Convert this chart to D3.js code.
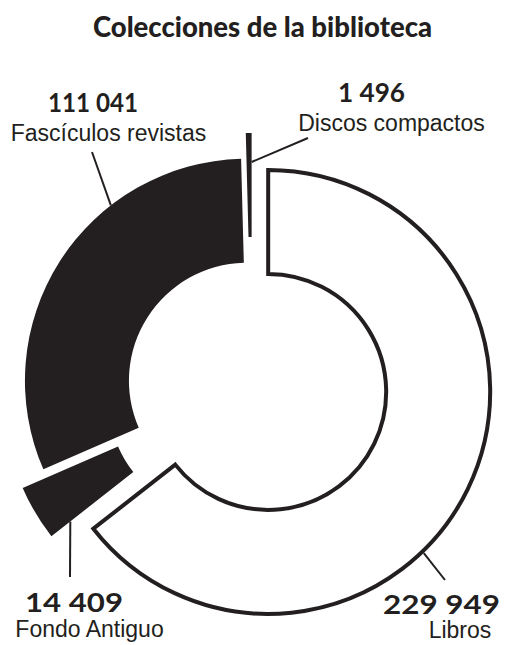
<!DOCTYPE html>
<html><head><meta charset="utf-8">
<script src="https://cdn.jsdelivr.net/npm/d3@7"></script>
<style>html,body{margin:0;padding:0;background:#fff} svg{display:block}</style>
</head><body>
<svg id="chart" width="512" height="645"></svg>
<script>
// ---- data ----
const title = "Colecciones de la biblioteca";
const categories = ["Libros", "Fondo Antiguo", "Fascículos revistas", "Discos compactos"];
const values = [229949, 14409, 111041, 1496];
const valueLabels = ["229 949", "14 409", "111 041", "1 496"];

// ---- layout / style ----
const W = 512, H = 645;
const cx = 252, cy = 384, rOut = 222, rIn = 118;
const explode = [18, 30, 6, 29];
const fills = ["#ffffff", "#231f20", "#231f20", "#231f20"];
const ink = "#231f20";
const labelLayout = [
  {num: [441.5, 614], numW: 117, name: [460, 638], lead: {deg: 136, r: rOut + 2}, end: [445, 580]},
  {num: [74, 612], numW: 98, name: [89.5, 637], lead: {deg: "start", r: 198}, end: [70, 577]},
  {num: [93, 112], numW: 90, name: [108.5, 141], lead: {deg: 322.2, r: rOut}, end: [92, 152]},
  {num: [371.5, 102], numW: 67, name: [391.5, 131], lead: {deg: "end", r: 193}, end: [308, 138]}
];

const svg = d3.select("#chart");
svg.append("rect").attr("width", W).attr("height", H).attr("fill", "#fff");

svg.append("text")
  .attr("x", 262.5).attr("y", 37)
  .attr("text-anchor", "middle")
  .attr("font-family", "Lato, 'DejaVu Sans', sans-serif")
  .attr("font-weight", 900)
  .attr("font-size", 27.5)
  .attr("fill", ink)
  .text(title);

const data = categories.map((c, i) => ({name: c, value: values[i], label: valueLabels[i], i}));
const pie = d3.pie().sort(null).value(d => d.value).startAngle(0).endAngle(2 * Math.PI);
const arcs = pie(data);
const arc = d3.arc().innerRadius(rIn).outerRadius(rOut);

const centres = arcs.map((a, i) => {
  const mid = (a.startAngle + a.endAngle) / 2;
  return [cx + Math.sin(mid) * explode[i], cy - Math.cos(mid) * explode[i]];
});

const g = svg.append("g");
arcs.forEach((a, i) => {
  const p = g.append("path")
    .attr("transform", `translate(${centres[i][0]},${centres[i][1]})`)
    .attr("d", arc(a))
    .attr("fill", fills[i]);
  if (fills[i] === "#ffffff") {
    p.attr("stroke", ink).attr("stroke-width", 4).attr("stroke-linejoin", "miter");
  }
});

// leaders
arcs.forEach((a, i) => {
  const L = labelLayout[i];
  const ang = L.lead.deg === "start" ? a.startAngle : L.lead.deg === "end" ? a.endAngle : L.lead.deg * Math.PI / 180;
  const x0 = centres[i][0] + Math.sin(ang) * L.lead.r;
  const y0 = centres[i][1] - Math.cos(ang) * L.lead.r;
  svg.append("line")
    .attr("x1", x0).attr("y1", y0)
    .attr("x2", L.end[0]).attr("y2", L.end[1])
    .attr("stroke", ink).attr("stroke-width", 2);
});

// labels
data.forEach((d, i) => {
  const L = labelLayout[i];
  svg.append("text")
    .attr("x", L.num[0]).attr("y", L.num[1])
    .attr("text-anchor", "middle")
    .attr("font-family", "Lato, sans-serif")
    .attr("font-weight", 700)
    .attr("font-size", 26)
    .attr("textLength", L.numW)
    .attr("lengthAdjust", "spacingAndGlyphs")
    .attr("fill", ink)
    .text(d.label);
  svg.append("text")
    .attr("x", L.name[0]).attr("y", L.name[1])
    .attr("text-anchor", "middle")
    .attr("font-family", "'Liberation Sans', Arial, sans-serif")
    .attr("font-size", 23)
    .attr("fill", ink)
    .text(d.name);
});
</script>
</body></html>
